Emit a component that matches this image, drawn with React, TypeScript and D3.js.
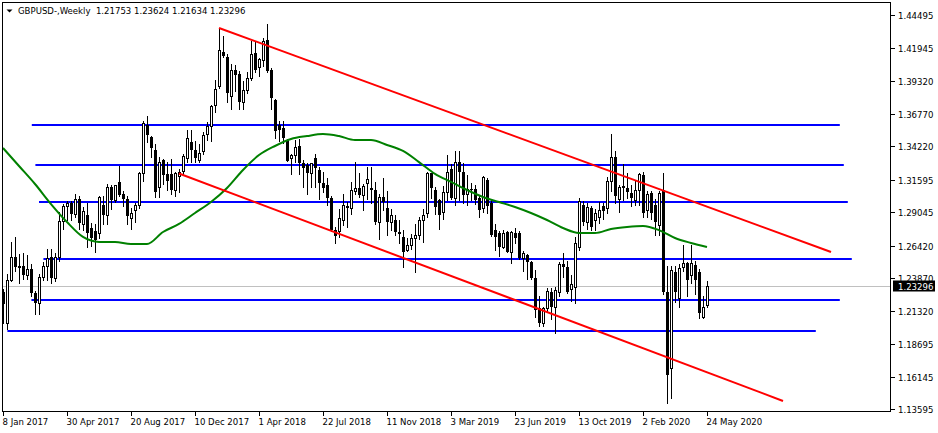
import React from 'react';
import * as d3 from 'd3';

// ---- data (weekly GBPUSD, O/H/L/C) ----
const weekStart = ['8 Jan 2017', '30 Apr 2017', '20 Aug 2017', '10 Dec 2017', '1 Apr 2018', '22 Jul 2018', '11 Nov 2018', '3 Mar 2019', '23 Jun 2019', '13 Oct 2019', '2 Feb 2020', '24 May 2020'];
const labelEvery = 16;

const candles: [number, number, number, number][] = [
  [1.2280, 1.2300, 1.2037, 1.2185], [1.2035, 1.2417, 1.1986, 1.2370], [1.2375, 1.2673, 1.2365, 1.2552], [1.2550, 1.2706, 1.2440, 1.2475],
  [1.2475, 1.2580, 1.2346, 1.2485], [1.2485, 1.2582, 1.2384, 1.2410], [1.2410, 1.2571, 1.2380, 1.2460], [1.2460, 1.2500, 1.2250, 1.2270],
  [1.2270, 1.2290, 1.2109, 1.2190], [1.2190, 1.2420, 1.2110, 1.2400], [1.2400, 1.2513, 1.2370, 1.2480], [1.2480, 1.2614, 1.2376, 1.2545],
  [1.2550, 1.2615, 1.2346, 1.2390], [1.2390, 1.2585, 1.2366, 1.2550], [1.2555, 1.2905, 1.2518, 1.2836], [1.2836, 1.2966, 1.2775, 1.2950],
  [1.2950, 1.2990, 1.2844, 1.2975], [1.2975, 1.2990, 1.2844, 1.2890], [1.2890, 1.3048, 1.2870, 1.3010], [1.3010, 1.3030, 1.2774, 1.2820],
  [1.2810, 1.2943, 1.2766, 1.2910], [1.2880, 1.2978, 1.2635, 1.2740], [1.2780, 1.2817, 1.2636, 1.2700], [1.2760, 1.2810, 1.2589, 1.2690],
  [1.2740, 1.3030, 1.2700, 1.3025], [1.2960, 1.3030, 1.2812, 1.2880], [1.2880, 1.3126, 1.2812, 1.3100], [1.3100, 1.3115, 1.2932, 1.3000],
  [1.3000, 1.3119, 1.2983, 1.3114], [1.3140, 1.3268, 1.3030, 1.3040], [1.3050, 1.3070, 1.2953, 1.3010], [1.3010, 1.3030, 1.2810, 1.2877],
  [1.2860, 1.2935, 1.2773, 1.2900], [1.2920, 1.2980, 1.2826, 1.2960], [1.2960, 1.3222, 1.2940, 1.3210], [1.3210, 1.3621, 1.3150, 1.3605],
  [1.3590, 1.3657, 1.3453, 1.3510], [1.3495, 1.3500, 1.3338, 1.3405], [1.3390, 1.3440, 1.3027, 1.3065], [1.3105, 1.3338, 1.3026, 1.3300],
  [1.3310, 1.3320, 1.3125, 1.3195], [1.3200, 1.3300, 1.3080, 1.3150], [1.3200, 1.3320, 1.3050, 1.3080], [1.3078, 1.3220, 1.3030, 1.3212],
  [1.3185, 1.3240, 1.3060, 1.3222], [1.3228, 1.3361, 1.3200, 1.3345], [1.3329, 1.3550, 1.3300, 1.3486], [1.3455, 1.3550, 1.3300, 1.3395],
  [1.3390, 1.3460, 1.3300, 1.3330], [1.3316, 1.3440, 1.3300, 1.3368], [1.3384, 1.3530, 1.3360, 1.3510], [1.3517, 1.3613, 1.3470, 1.3580],
  [1.3580, 1.3743, 1.3460, 1.3737], [1.3745, 1.3943, 1.3690, 1.3870], [1.3894, 1.4345, 1.3880, 1.4176], [1.4156, 1.4285, 1.4120, 1.4130],
  [1.4121, 1.4145, 1.3764, 1.3839], [1.3815, 1.4069, 1.3712, 1.4020], [1.4022, 1.4060, 1.3855, 1.3983], [1.3990, 1.4008, 1.3712, 1.3770],
  [1.3770, 1.3930, 1.3711, 1.3865], [1.3865, 1.4000, 1.3840, 1.3956], [1.3956, 1.4245, 1.3940, 1.4145], [1.4152, 1.4244, 1.4000, 1.4022],
  [1.4040, 1.4110, 1.3970, 1.4108], [1.4100, 1.4272, 1.4050, 1.4247], [1.4254, 1.4376, 1.4000, 1.4011], [1.4022, 1.4035, 1.3711, 1.3800],
  [1.3786, 1.3795, 1.3487, 1.3541], [1.3590, 1.3620, 1.3460, 1.3545], [1.3564, 1.3618, 1.3445, 1.3486], [1.3473, 1.3480, 1.3305, 1.3306],
  [1.3329, 1.3360, 1.3204, 1.3355], [1.3353, 1.3472, 1.3300, 1.3416], [1.3423, 1.3474, 1.3205, 1.3290], [1.3290, 1.3314, 1.3100, 1.3250],
  [1.3277, 1.3290, 1.3050, 1.3215], [1.3212, 1.3291, 1.3100, 1.3290], [1.3329, 1.3363, 1.3100, 1.3251], [1.3238, 1.3258, 1.3010, 1.3134],
  [1.3134, 1.3216, 1.3060, 1.3094], [1.3120, 1.3175, 1.2957, 1.3016], [1.3016, 1.3030, 1.2760, 1.2767], [1.2767, 1.2785, 1.2661, 1.2720],
  [1.2757, 1.2930, 1.2710, 1.2859], [1.2846, 1.3043, 1.2800, 1.2963], [1.2950, 1.2986, 1.2785, 1.2937], [1.2937, 1.3141, 1.2890, 1.3081],
  [1.3070, 1.3298, 1.3050, 1.3094], [1.3094, 1.3215, 1.3027, 1.3039], [1.3039, 1.3127, 1.2922, 1.3110], [1.3134, 1.3261, 1.3010, 1.3165],
  [1.3094, 1.3258, 1.2980, 1.3078], [1.3078, 1.3140, 1.2815, 1.2830], [1.2830, 1.3043, 1.2696, 1.3026], [1.3026, 1.3175, 1.2920, 1.2987],
  [1.2937, 1.3074, 1.2723, 1.2830], [1.2830, 1.2930, 1.2765, 1.2880], [1.2843, 1.2885, 1.2723, 1.2752], [1.2752, 1.2840, 1.2660, 1.2730],
  [1.2712, 1.2765, 1.2477, 1.2595], [1.2608, 1.2700, 1.2600, 1.2647], [1.2647, 1.2730, 1.2615, 1.2702], [1.2700, 1.2815, 1.2438, 1.2725],
  [1.2725, 1.2866, 1.2693, 1.2843], [1.2843, 1.2933, 1.2670, 1.2880], [1.2898, 1.3218, 1.2867, 1.3212], [1.3212, 1.3215, 1.3013, 1.3094],
  [1.3078, 1.3100, 1.2890, 1.2948], [1.3000, 1.3010, 1.2772, 1.2882], [1.2908, 1.3109, 1.2854, 1.3065], [1.3065, 1.3350, 1.3003, 1.3222],
  [1.3240, 1.3280, 1.3004, 1.3013], [1.3013, 1.3381, 1.2961, 1.3300], [1.3300, 1.3380, 1.3000, 1.3222], [1.3222, 1.3290, 1.2977, 1.3039],
  [1.3047, 1.3195, 1.2960, 1.3086], [1.3086, 1.3130, 1.3000, 1.3075], [1.3086, 1.3120, 1.2965, 1.2999], [1.3016, 1.3030, 1.2866, 1.2922],
  [1.2937, 1.3190, 1.2905, 1.3183], [1.3157, 1.3176, 1.2900, 1.2950], [1.2977, 1.3000, 1.2715, 1.2725], [1.2765, 1.2810, 1.2605, 1.2712],
  [1.2741, 1.2760, 1.2558, 1.2634], [1.2634, 1.2763, 1.2620, 1.2740], [1.2751, 1.2760, 1.2590, 1.2595], [1.2595, 1.2760, 1.2505, 1.2751],
  [1.2741, 1.2784, 1.2660, 1.2702], [1.2741, 1.2760, 1.2540, 1.2545], [1.2545, 1.2600, 1.2440, 1.2584], [1.2568, 1.2580, 1.2380, 1.2516],
  [1.2516, 1.2520, 1.2380, 1.2386], [1.2386, 1.2450, 1.2080, 1.2138], [1.2150, 1.2250, 1.2015, 1.2036], [1.2036, 1.2165, 1.2015, 1.2150],
  [1.2150, 1.2310, 1.2120, 1.2290], [1.2281, 1.2310, 1.2070, 1.2164], [1.2164, 1.2320, 1.1959, 1.2294], [1.2281, 1.2510, 1.2250, 1.2500],
  [1.2500, 1.2582, 1.2400, 1.2475], [1.2477, 1.2520, 1.2270, 1.2281], [1.2302, 1.2410, 1.2205, 1.2341], [1.2320, 1.2708, 1.2195, 1.2663],
  [1.2634, 1.3012, 1.2610, 1.2992], [1.2961, 1.2990, 1.2800, 1.2830], [1.2830, 1.2977, 1.2770, 1.2948], [1.2937, 1.2950, 1.2768, 1.2791],
  [1.2843, 1.2930, 1.2768, 1.2898], [1.2870, 1.2985, 1.2823, 1.2920], [1.2950, 1.2975, 1.2850, 1.2910], [1.2935, 1.3177, 1.2895, 1.3150],
  [1.3150, 1.3515, 1.3070, 1.3340], [1.3340, 1.3380, 1.2980, 1.3030], [1.3010, 1.3118, 1.2905, 1.3104], [1.3100, 1.3285, 1.3000, 1.3110],
  [1.3094, 1.3210, 1.3013, 1.3065], [1.3055, 1.3120, 1.2954, 1.3016], [1.2999, 1.3150, 1.2960, 1.3078], [1.3078, 1.3212, 1.2957, 1.3205],
  [1.3196, 1.3217, 1.2870, 1.2896], [1.2920, 1.3069, 1.2870, 1.3050], [1.3055, 1.3070, 1.2850, 1.2898], [1.2961, 1.3010, 1.2725, 1.2830],
  [1.2804, 1.3070, 1.2725, 1.3055], [1.3078, 1.3212, 1.2260, 1.2281], [1.2281, 1.2485, 1.1409, 1.1628], [1.1683, 1.2485, 1.1450, 1.2451],
  [1.2438, 1.2485, 1.2200, 1.2281], [1.2232, 1.2500, 1.2160, 1.2467], [1.2477, 1.2648, 1.2440, 1.2506], [1.2506, 1.2515, 1.2250, 1.2373],
  [1.2412, 1.2648, 1.2350, 1.2506], [1.2490, 1.2520, 1.2265, 1.2373], [1.2438, 1.2460, 1.2075, 1.2112], [1.2085, 1.2250, 1.2075, 1.2164],
  [1.21753, 1.23624, 1.21634, 1.23296],
];

// moving average, one reading every 4 weeks
const maEvery = 4;
const maValues = [1.3407, 1.3266, 1.3125, 1.2968, 1.2827, 1.2710, 1.2671, 1.2671, 1.2655, 1.2655, 1.2749, 1.2812, 1.2898, 1.2984, 1.3094,
  1.3235, 1.3352, 1.3423, 1.3478, 1.3501, 1.3517, 1.3501, 1.3470, 1.3470, 1.3431, 1.3384, 1.3297, 1.3204, 1.3141, 1.3078, 1.3023, 1.2984,
  1.2945, 1.2898, 1.2843, 1.2780, 1.2741, 1.2741, 1.2772, 1.2788, 1.2796, 1.2764, 1.2702, 1.2663, 1.2631];

const priceTicks = [1.44495, 1.41945, 1.39320, 1.36770, 1.34220, 1.31595, 1.29045, 1.26420, 1.23870, 1.21320, 1.18695, 1.16145, 1.13595];

// horizontal levels: price, from week, to week
const levelPrices = [1.3587, 1.3274, 1.2984, 1.2537, 1.2216, 1.1973];
const levelFrom = [7.2, 8.1, 9.0, 10.1, 7.1, 1.1];
const levelTo = [209.2, 210.2, 211.2, 212.2, 209.2, 203.2];

// trend lines: [week1, price1, week2, price2]
const trendLines: [number, number, number, number][] = [
  [54, 1.4348, 207, 1.2592],
  [44, 1.3207, 195, 1.1425],
];

const symbol = 'GBPUSD-,Weekly';
const lastBar = ['1.21753', '1.23624', '1.21634', '1.23296'];
const lastPrice = 1.23296;

// ---- layout ----
const W = 938, H = 433;
const L = 2, R = 891, T = 2, B = 412;
const FONT = '"DejaVu Sans Condensed", "DejaVu Sans", sans-serif';

export default function App() {
  const n = candles.length;
  const x = d3.scaleLinear().domain([0, n - 1]).range([3, 3 + 4 * (n - 1)]);
  const y = d3.scaleLinear().domain([1.13595, 1.44495]).range([409.3, 15]);

  const maLine = d3.line<number>()
    .x((_, i) => x(i * maEvery))
    .y((v) => y(v))
    .curve(d3.curveMonotoneX);

  const lastY = Math.round(y(lastPrice)) + 0.5;

  return (
    <svg width={W} height={H} style={{ position: 'absolute', left: 0, top: 0, display: 'block', background: '#fff' }}
      fontFamily={FONT}>
      <defs>
        <clipPath id="plot"><rect x={L} y={T} width={R - L} height={B - T} /></clipPath>
      </defs>
      <rect x={0} y={0} width={W} height={H} fill="#fff" />

      <g clipPath="url(#plot)">
        {/* bid line */}
        <line x1={L} x2={R} y1={lastY} y2={lastY} stroke="#c0c0c0" strokeWidth={1} />

        {/* horizontal levels */}
        {levelPrices.map((p, i) => (
          <line key={'lv' + i} x1={x(levelFrom[i])} x2={x(levelTo[i])} y1={y(p)} y2={y(p)} stroke="#0000ff" strokeWidth={2} />
        ))}

        {/* candles */}
        {candles.map(([o, h, l, c], i) => {
          const cx = Math.round(x(i));
          const hi = Math.max(h, o, c), lo = Math.min(l, o, c);
          const top = Math.round(y(Math.max(o, c)));
          const bot = Math.round(y(Math.min(o, c)));
          const up = c >= o;
          return (
            <g key={'c' + i}>
              <line x1={cx + 0.5} x2={cx + 0.5} y1={Math.round(y(hi))} y2={Math.round(y(lo)) + 1} stroke="#000" strokeWidth={1} />
              {up ? (
                <rect x={cx - 0.5} y={top + 0.5} width={2} height={Math.max(bot - top, 0)} fill="#fff" stroke="#000" strokeWidth={1} />
              ) : (
                <rect x={cx - 1} y={top} width={3} height={Math.max(bot - top, 1)} fill="#000" />
              )}
            </g>
          );
        })}

        {/* moving average */}
        <path d={maLine(maValues) || ''} fill="none" stroke="#008000" strokeWidth={2} />

        {/* trend lines */}
        {trendLines.map(([w1, p1, w2, p2], i) => (
          <line key={'tl' + i} x1={x(w1)} y1={y(p1)} x2={x(w2)} y2={y(p2)} stroke="#ff0000" strokeWidth={2} />
        ))}
      </g>

      {/* frame */}
      <rect x={L + 0.5} y={T + 0.5} width={R - L - 1} height={B - T - 1} fill="none" stroke="#000" strokeWidth={1} />

      {/* price axis */}
      {priceTicks.map((p) => {
        const ty = Math.round(y(p)) + 0.5;
        return (
          <g key={'pt' + p}>
            <line x1={R} x2={R + 4} y1={ty} y2={ty} stroke="#000" />
            <text x={898} y={ty + 3.5} fontSize={9.5} fill="#000">{p.toFixed(5)}</text>
          </g>
        );
      })}
      <rect x={893} y={lastY - 6} width={42} height={11} fill="#000" />
      <text x={898} y={lastY + 3.5} fontSize={9.5} fill="#fff">{lastPrice.toFixed(5)}</text>

      {/* time axis */}
      {weekStart.map((lab, i) => {
        const tx = Math.round(x(i * labelEvery)) + 0.5;
        return (
          <g key={'wl' + i}>
            <line x1={tx} x2={tx} y1={B} y2={B + 4} stroke="#000" />
            <text x={tx - 1} y={425} fontSize={9.5} fill="#000">{lab}</text>
          </g>
        );
      })}

      {/* header */}
      <path d="M6.5,9.5 L12.5,9.5 L9.5,12.5 Z" fill="#000" />
      <text x={18} y={14} fontSize={9.5} fill="#000" xmlSpace="preserve">
        {symbol + '  ' + lastBar.join(' ')}
      </text>
    </svg>
  );
}
